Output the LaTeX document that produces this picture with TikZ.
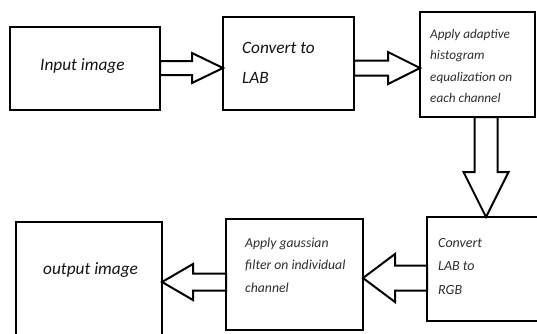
\documentclass[tikz,border=0pt]{standalone}
\usepackage{fontspec}
\setmainfont{Carlito}
\usetikzlibrary{calc}
\definecolor{txtbig}{HTML}{141414}
\definecolor{txtsmall}{HTML}{2E2E2E}
\newcommand\blockarr[5]{%
  \path ($(#2)!#5!(#1)$) coordinate (H);
  \draw[barr] ($(#1)!#3!90:(#2)$) -- ($(H)!#3!-90:(#1)$) -- ($(H)!#4!-90:(#1)$)
    -- (#2) -- ($(H)!#4!90:(#1)$) -- ($(H)!#3!90:(#1)$) -- ($(#1)!#3!-90:(#2)$) -- cycle;}
\tikzset{
  box/.style={draw=black, line width=2.2pt, fill=white, inner sep=0pt, outer sep=0pt, anchor=north west},
  barr/.style={draw=black, line width=2pt, fill=white, line join=miter},
  bigtxt/.style={font=\fontsize{17.3}{30}\selectfont\itshape, text=txtbig, inner sep=0pt, anchor=base west},
  smalltxt/.style={font=\fontsize{13.2}{21.5}\selectfont\itshape, text=txtsmall, inner sep=0pt, anchor=base west},
}
\begin{document}
\begin{tikzpicture}[x=1pt,y=-1pt]
\useasboundingbox (0,0) rectangle (537,333);
\fill[white] (0,0) rectangle (537,333);
\clip (0,0) rectangle (537,333);
% boxes
\node[box, minimum width=150pt, minimum height=83pt] (in) at (10,27) {};
\node[box, minimum width=131pt, minimum height=93pt] (lab) at (223,17) {};
\node[box, minimum width=115pt, minimum height=105pt] (apply) at (420,12) {};
\node[box, minimum width=118pt, minimum height=104pt] (rgb) at (427,217) {};
\node[box, minimum width=137pt, minimum height=111pt] (gau) at (226,219) {};
\node[box, minimum width=146pt, minimum height=130pt] (out) at (16,222) {};
% texts
\node[bigtxt] (tin) at (40,70) {Input image};
\node[bigtxt] (tlab) at (242,53) {\vtop{\hbox{Convert to}\hbox{LAB}}};
\node[smalltxt] (tapply) at (430,38) {\vtop{\hbox{Apply adaptive}\hbox{histogram}\hbox{equalization on}\hbox{each channel}}};
\node[smalltxt, font=\fontsize{14}{23.5}\selectfont\itshape] (trgb) at (438,247) {\vtop{\hbox{Convert}\hbox{LAB to}\hbox{RGB}}};
\node[smalltxt, font=\fontsize{13.7}{22.5}\selectfont\itshape] (tgau) at (245,247) {\vtop{\hbox{Apply gaussian}\hbox{filter on individual}\hbox{channel}}};
\node[bigtxt] (tout) at (43,274) {output image};
% connector end points
\coordinate (a1s) at ($(in.north east)+(0,41)$);
\coordinate (a1e) at ($(lab.north west)+(0,51)$);
\coordinate (a2s) at ($(lab.north east)+(0,51)$);
\coordinate (a2e) at ($(apply.north west)+(0,56)$);
\coordinate (a3s) at ($(apply.south west)+(66,0)$);
\coordinate (a3e) at ($(rgb.north west)+(59,0)$);
\coordinate (a4s) at ($(rgb.north west)+(0,61)$);
\coordinate (a4e) at ($(gau.north east)+(0,59)$);
\coordinate (a5s) at ($(gau.north west)+(0,63)$);
\coordinate (a5e) at ($(out.north east)+(0,60)$);
% block arrows
\blockarr{a1s}{a1e}{7pt}{15pt}{31pt}
\blockarr{a2s}{a2e}{7.5pt}{16pt}{32pt}
\blockarr{a3s}{a3e}{11.5pt}{22.5pt}{45pt}
\blockarr{a4s}{a4e}{12.5pt}{24pt}{32pt}
\blockarr{a5s}{a5e}{8.5pt}{18pt}{31pt}
\end{tikzpicture}
\end{document}
